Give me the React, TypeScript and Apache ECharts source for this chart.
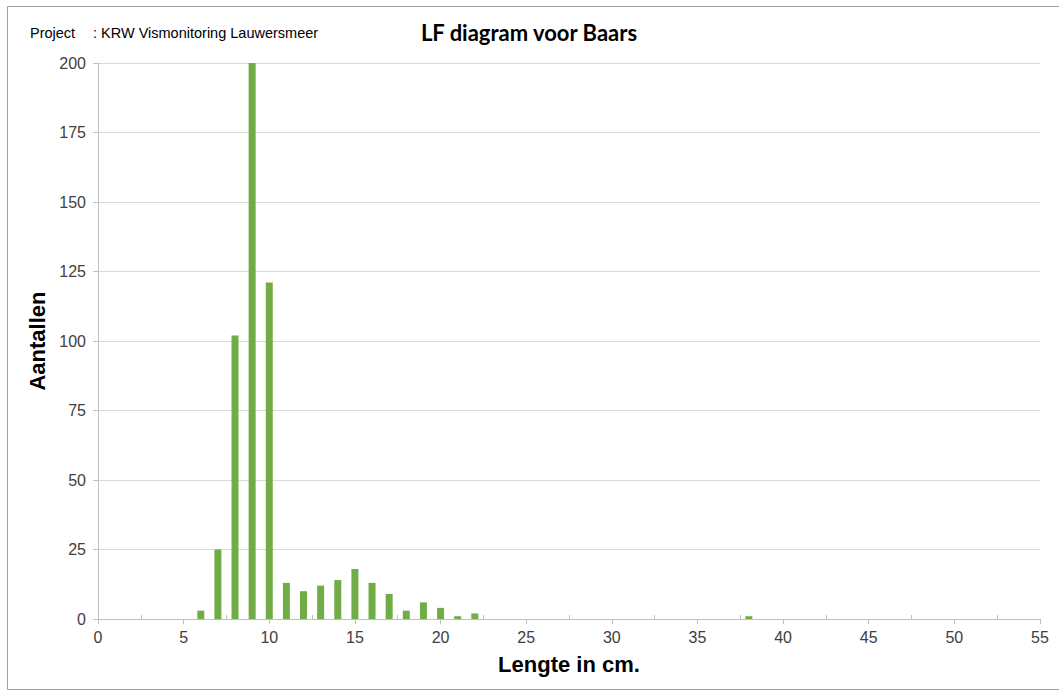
import React, { useEffect, useRef } from "react";
import * as echarts from "echarts";

const lengths = [6, 7, 8, 9, 10, 11, 12, 13, 14, 15, 16, 17, 18, 19, 20, 21, 22, 38];
const counts = [3, 25, 102, 200, 121, 13, 10, 12, 14, 18, 13, 9, 3, 6, 4, 1, 2, 1];
const minorTickValues = [2.5, 7.5, 12.5, 17.5, 22.5, 27.5, 32.5, 37.5, 42.5, 47.5, 52.5];

export default function App() {
  const ref = useRef<HTMLDivElement>(null);
  useEffect(() => {
    if (!ref.current) return;
    const chart = echarts.init(ref.current, undefined, { renderer: "svg" });
    const labelFont = { fontFamily: "Liberation Sans, Arial, sans-serif", fontSize: 16, color: "#404040" };
    chart.setOption({
      animation: false,
      backgroundColor: "#ffffff",
      grid: { left: 98, right: 19, top: 63, bottom: 74, containLabel: false },
      graphic: [
        {
          type: "rect",
          shape: { x: 7.5, y: 6.5, width: 1060, height: 683 },
          style: { fill: "none", stroke: "#a0a0a0", lineWidth: 1 },
          silent: true,
        },
        {
          type: "text",
          x: 30,
          y: 33,
          style: { text: "Project", font: "14.5px 'Liberation Sans', Arial, sans-serif", fill: "#000", textVerticalAlign: "middle" },
        },
        {
          type: "text",
          x: 93,
          y: 33,
          style: { text: ": KRW Vismonitoring Lauwersmeer", font: "14.5px 'Liberation Sans', Arial, sans-serif", fill: "#000", textVerticalAlign: "middle" },
        },
        {
          type: "text",
          x: 529,
          y: 32,
          style: { text: "LF diagram voor Baars", font: "bold 22px Lato, 'Open Sans', sans-serif", fill: "#000", textAlign: "center", textVerticalAlign: "middle" },
        },
      ],
      xAxis: [
        {
          type: "value",
          min: 0,
          max: 55,
          interval: 5,
          name: "Lengte in cm.",
          nameLocation: "middle",
          nameGap: 34,
          nameTextStyle: { fontFamily: "Liberation Sans, Arial, sans-serif", fontSize: 22, fontWeight: "bold", color: "#000" },
          axisLine: { show: true, lineStyle: { color: "#bfbfbf", width: 1 } },
          axisTick: { show: true, length: 5, lineStyle: { color: "#bfbfbf" } },
          axisLabel: { ...labelFont, margin: 10 },
          splitLine: { show: false },
        },
        {
          type: "value",
          min: 0,
          max: 55,
          position: "bottom",
          axisLine: { show: false },
          axisTick: { show: true, inside: true, length: 4, customValues: minorTickValues, lineStyle: { color: "#bfbfbf" } },
          axisLabel: { show: false },
          splitLine: { show: false },
        },
      ],
      yAxis: {
        type: "value",
        min: 0,
        max: 200,
        interval: 25,
        name: "Aantallen",
        nameLocation: "middle",
        nameGap: 50,
        nameTextStyle: { fontFamily: "Liberation Sans, Arial, sans-serif", fontSize: 22, fontWeight: "bold", color: "#000" },
        axisLine: { show: true, lineStyle: { color: "#bfbfbf", width: 1 } },
        axisTick: { show: true, length: 5, lineStyle: { color: "#bfbfbf" } },
        axisLabel: { ...labelFont, margin: 12 },
        splitLine: { show: true, lineStyle: { color: "#d9d9d9", width: 1 } },
      },
      series: [
        {
          type: "bar",
          xAxisIndex: 0,
          data: lengths.map((l, i) => [l, counts[i]]),
          barWidth: 7,
          itemStyle: { color: "#70ad47" },
        },
      ],
    });
    return () => chart.dispose();
  }, []);
  return <div ref={ref} style={{ position: "absolute", left: 0, top: 0, width: 1059, height: 693 }} />;
}
